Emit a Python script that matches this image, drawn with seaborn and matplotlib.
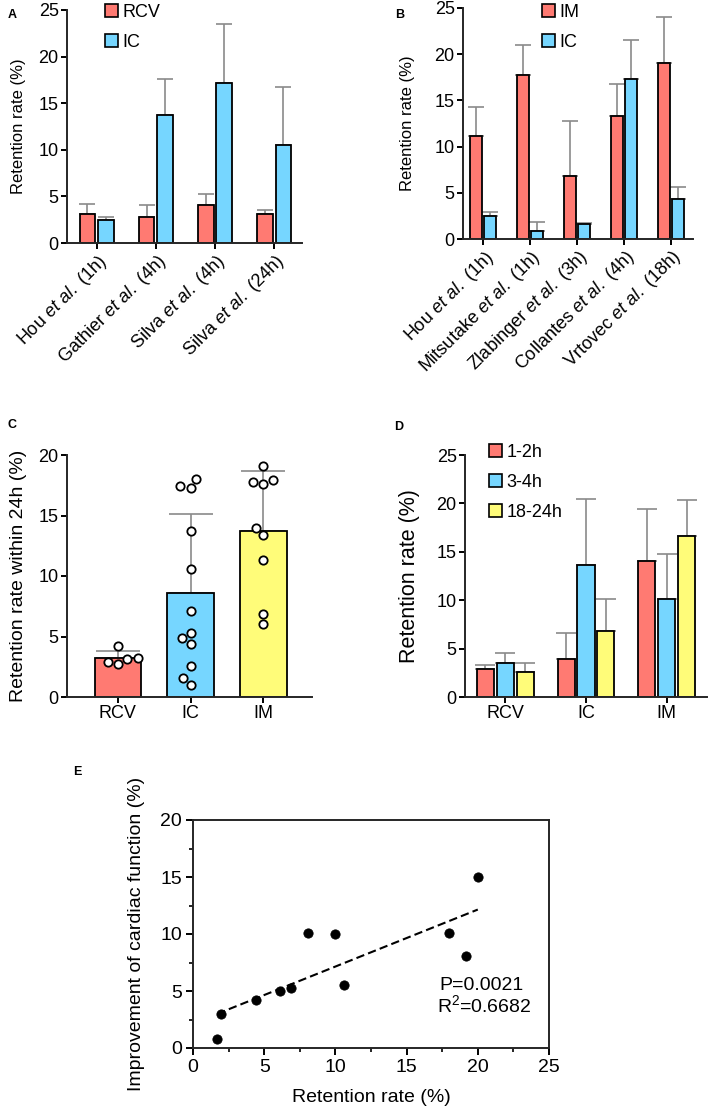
import numpy as np
import pandas as pd
import matplotlib
matplotlib.use("Agg")
import matplotlib.pyplot as plt
from matplotlib.patches import Patch
import seaborn as sns

sns.set_style("ticks")
plt.rcParams["font.family"] = ["Liberation Sans", "DejaVu Sans"]
plt.rcParams["mathtext.fontset"] = "custom"
plt.rcParams["mathtext.rm"] = "Liberation Sans"
plt.rcParams["mathtext.it"] = "Liberation Sans:italic"
plt.rcParams["axes.linewidth"] = 1.4
plt.rcParams["xtick.major.width"] = 1.4
plt.rcParams["ytick.major.width"] = 1.4
plt.rcParams["xtick.major.size"] = 4
plt.rcParams["ytick.major.size"] = 4
plt.rcParams["xtick.color"] = "black"
plt.rcParams["ytick.color"] = "black"
plt.rcParams["text.color"] = "black"
plt.rcParams["axes.labelcolor"] = "black"

RED = "#FF7A72"
BLUE = "#76D6FF"
YELLOW = "#FFFC79"
GREY = "#8a8a8a"
FS = 13       # tick labels
EFS = 14      # panel E text

# ---------------- Data ----------------
# Panel A
studies_a = [r"Hou $\it{et\ al.}$ (1h)", r"Gathier $\it{et\ al.}$ (4h)",
             r"Silva $\it{et\ al.}$ (4h)", r"Silva $\it{et\ al.}$ (24h)"]
a_rcv_mean = [3.1, 2.8, 4.1, 3.1]
a_rcv_top = [4.2, 4.1, 5.3, 3.5]
a_ic_mean = [2.5, 13.7, 17.2, 10.5]
a_ic_top = [2.8, 17.6, 23.5, 16.7]

# Panel B
studies_b = [r"Hou $\it{et\ al.}$ (1h)", r"Mitsutake $\it{et\ al.}$ (1h)",
             r"Zlabinger $\it{et\ al.}$ (3h)", r"Collantes $\it{et\ al.}$ (4h)",
             r"Vrtovec $\it{et\ al.}$ (18h)"]
b_im_mean = [11.2, 17.8, 6.8, 13.3, 19.1]
b_im_top = [14.3, 21.0, 12.8, 16.8, 24.0]
b_ic_mean = [2.5, 0.9, 1.6, 17.3, 4.3]
b_ic_top = [2.9, 1.8, 1.7, 21.5, 5.6]

# Panel C
groups_c = ["RCV", "IC", "IM"]
c_mean = [3.2, 8.6, 13.7]
c_top = [3.8, 15.1, 18.7]
c_rcv_pts = [2.7, 3.1, 2.9, 3.2, 4.2]
c_ic_pts = [18.0, 17.3, 17.4, 13.7, 10.6, 7.1, 4.9, 5.3, 4.4, 2.6, 1.6, 1.0]
c_im_pts = [19.1, 17.9, 17.6, 17.8, 14.0, 13.4, 11.3, 6.9, 6.0]

# Panel D
groups_d = ["RCV", "IC", "IM"]
times_d = ["1-2h", "3-4h", "18-24h"]
d_mean = {"1-2h": [2.9, 3.9, 14.1], "3-4h": [3.5, 13.6, 10.1], "18-24h": [2.6, 6.8, 16.6]}
d_top = {"1-2h": [3.3, 6.6, 19.4], "3-4h": [4.5, 20.5, 14.8], "18-24h": [3.5, 10.1, 20.3]}

# Panel E
e_x = [1.7, 2.0, 4.4, 6.1, 6.9, 8.1, 10.0, 10.6, 18.0, 19.2, 20.0]
e_y = [0.8, 3.0, 4.2, 5.0, 5.3, 10.1, 10.0, 5.5, 10.1, 8.1, 15.0]

W, H = 709, 1108
fig = plt.figure(figsize=(W / 100, H / 100), dpi=100)


def ax_px(l, t, r, b):
    return fig.add_axes([l / W, 1 - b / H, (r - l) / W, (b - t) / H])


def add_err(ax, container, means, tops, capsize):
    xs = [p.get_x() + p.get_width() / 2 for p in container]
    lo = np.zeros(len(means))
    hi = np.array(tops) - np.array(means)
    ax.errorbar(xs, means, yerr=[lo, hi], fmt="none", ecolor=GREY,
                elinewidth=1.2, capsize=capsize, capthick=1.2, zorder=1)


def style_bar_ax(ax):
    sns.despine(ax=ax)
    ax.tick_params(labelsize=FS, length=4, width=1.4, pad=2)
    ax.set_xlabel("")


def mk_legend(ax, labels, colors, x, y):
    handles = [Patch(facecolor=c, edgecolor="black", linewidth=1.2) for c in colors]
    ax.legend(handles, labels, loc="upper left", bbox_to_anchor=(x / W, 1 - y / H),
              bbox_transform=fig.transFigure, frameon=False, fontsize=FS,
              handlelength=0.7, handleheight=0.7, handletextpad=0.25,
              labelspacing=0.72, borderpad=0, borderaxespad=0)


# ---------------- Panel A ----------------
axA = ax_px(67, 10, 302, 243)
dfA = pd.DataFrame({
    "study": studies_a * 2,
    "group": ["RCV"] * 4 + ["IC"] * 4,
    "value": a_rcv_mean + a_ic_mean,
})
sns.barplot(data=dfA, x="study", y="value", hue="group", order=studies_a,
            hue_order=["RCV", "IC"], palette=[RED, BLUE], saturation=1, width=0.62, gap=0.15,
            edgecolor="black", linewidth=1.3, errorbar=None, legend=False, ax=axA, zorder=2)
add_err(axA, axA.containers[0], a_rcv_mean, a_rcv_top, 6)
add_err(axA, axA.containers[1], a_ic_mean, a_ic_top, 6)
axA.set_ylim(0, 25)
axA.set_yticks([0, 5, 10, 15, 20, 25])
axA.set_xlim(-0.5, 3.47)
axA.set_ylabel("Retention rate (%)", fontsize=12, labelpad=9)
style_bar_ax(axA)
plt.setp(axA.get_xticklabels(), rotation=45, ha="right", rotation_mode="anchor")
mk_legend(axA, ["RCV", "IC"], [RED, BLUE], 105, 4)

# ---------------- Panel B ----------------
axB = ax_px(463, 8, 693, 239)
dfB = pd.DataFrame({
    "study": studies_b * 2,
    "group": ["IM"] * 5 + ["IC"] * 5,
    "value": b_im_mean + b_ic_mean,
})
sns.barplot(data=dfB, x="study", y="value", hue="group", order=studies_b,
            hue_order=["IM", "IC"], palette=[RED, BLUE], saturation=1, width=0.6, gap=0.15,
            edgecolor="black", linewidth=1.3, errorbar=None, legend=False, ax=axB, zorder=2)
add_err(axB, axB.containers[0], b_im_mean, b_im_top, 6)
add_err(axB, axB.containers[1], b_ic_mean, b_ic_top, 6)
axB.set_ylim(0, 25)
axB.set_yticks([0, 5, 10, 15, 20, 25])
axB.set_xlim(-0.43, 4.47)
axB.set_ylabel("Retention rate (%)", fontsize=12, labelpad=14)
style_bar_ax(axB)
plt.setp(axB.get_xticklabels(), rotation=45, ha="right", rotation_mode="anchor")
mk_legend(axB, ["IM", "IC"], [RED, BLUE], 542, 4)

# ---------------- Panel C ----------------
axC = ax_px(67, 455, 312, 697)
sns.barplot(x=groups_c, y=c_mean, hue=groups_c, order=groups_c,
            palette=[RED, BLUE, YELLOW], saturation=1, width=0.64, edgecolor="black",
            linewidth=1.3, errorbar=None, legend=False, ax=axC, zorder=2)
for cont, m, t in zip(axC.containers, c_mean, c_top):
    add_err(axC, cont, [m], [t], 16)
dfC = pd.DataFrame({
    "group": ["RCV"] * len(c_rcv_pts) + ["IC"] * len(c_ic_pts) + ["IM"] * len(c_im_pts),
    "value": c_rcv_pts + c_ic_pts + c_im_pts,
})
sns.swarmplot(data=dfC, x="group", y="value", order=groups_c, color="white",
              edgecolor="black", linewidth=1.3, size=6, ax=axC, zorder=5)
axC.set_ylim(0, 20)
axC.set_yticks([0, 5, 10, 15, 20])
axC.set_xlim(-0.7, 2.67)
axC.set_ylabel("Retention rate within 24h (%)", fontsize=14, labelpad=8)
style_bar_ax(axC)

# ---------------- Panel D ----------------
axD = ax_px(465, 455, 707, 697)
dfD = pd.DataFrame({
    "group": groups_d * 3,
    "time": [t for t in times_d for _ in groups_d],
    "value": d_mean["1-2h"] + d_mean["3-4h"] + d_mean["18-24h"],
})
sns.barplot(data=dfD, x="group", y="value", hue="time", order=groups_d,
            hue_order=times_d, palette=[RED, BLUE, YELLOW], saturation=1, width=0.74, gap=0.14,
            edgecolor="black", linewidth=1.3, errorbar=None, legend=False, ax=axD, zorder=2)
for cont, t in zip(axD.containers, times_d):
    add_err(axD, cont, d_mean[t], d_top[t], 7)
axD.set_ylim(0, 25)
axD.set_yticks([0, 5, 10, 15, 20, 25])
axD.set_xlim(-0.5, 2.5)
axD.set_ylabel("Retention rate (%)", fontsize=15.5, labelpad=12)
style_bar_ax(axD)
mk_legend(axD, times_d, [RED, BLUE, YELLOW], 489, 444)

# ---------------- Panel E ----------------
axE = ax_px(193, 820, 549, 1048)
sns.regplot(x=e_x, y=e_y, ci=None, scatter=False, ax=axE,
            line_kws=dict(color="black", ls="--", lw=1.5, dashes=(4, 2)))
sns.scatterplot(x=e_x, y=e_y, color="black", s=45, edgecolor="black", ax=axE, zorder=5)
axE.set_xlim(0, 25)
axE.set_ylim(0, 20)
axE.set_xticks([0, 5, 10, 15, 20, 25])
axE.set_yticks([0, 5, 10, 15, 20])
axE.set_xticks(np.arange(0, 25.1, 2.5), minor=True)
axE.set_yticks(np.arange(0, 20.1, 2.5), minor=True)
axE.tick_params(which="major", labelsize=EFS, length=5, width=1.4, pad=3)
axE.tick_params(which="minor", length=3, width=1.2)
for s in axE.spines.values():
    s.set_linewidth(1.4)
axE.set_xlabel("Retention rate (%)", fontsize=EFS, labelpad=9)
axE.set_ylabel("Improvement of cardiac function (%)", fontsize=EFS, labelpad=11)
axE.text(17.3, 5.5, "P=0.0021", fontsize=EFS, va="center", ha="left")
axE.text(17.1, 3.75, r"R$^2$=0.6682", fontsize=EFS, va="center", ha="left")

# Panel letters
for letter, (x, y) in {"A": (12, 15), "B": (400, 15), "C": (12, 425),
                       "D": (399, 427), "E": (77, 772)}.items():
    fig.text(x / W, 1 - y / H, letter, fontsize=9, fontweight="bold",
             ha="center", va="center")

fig.savefig("out.png", dpi=100)
